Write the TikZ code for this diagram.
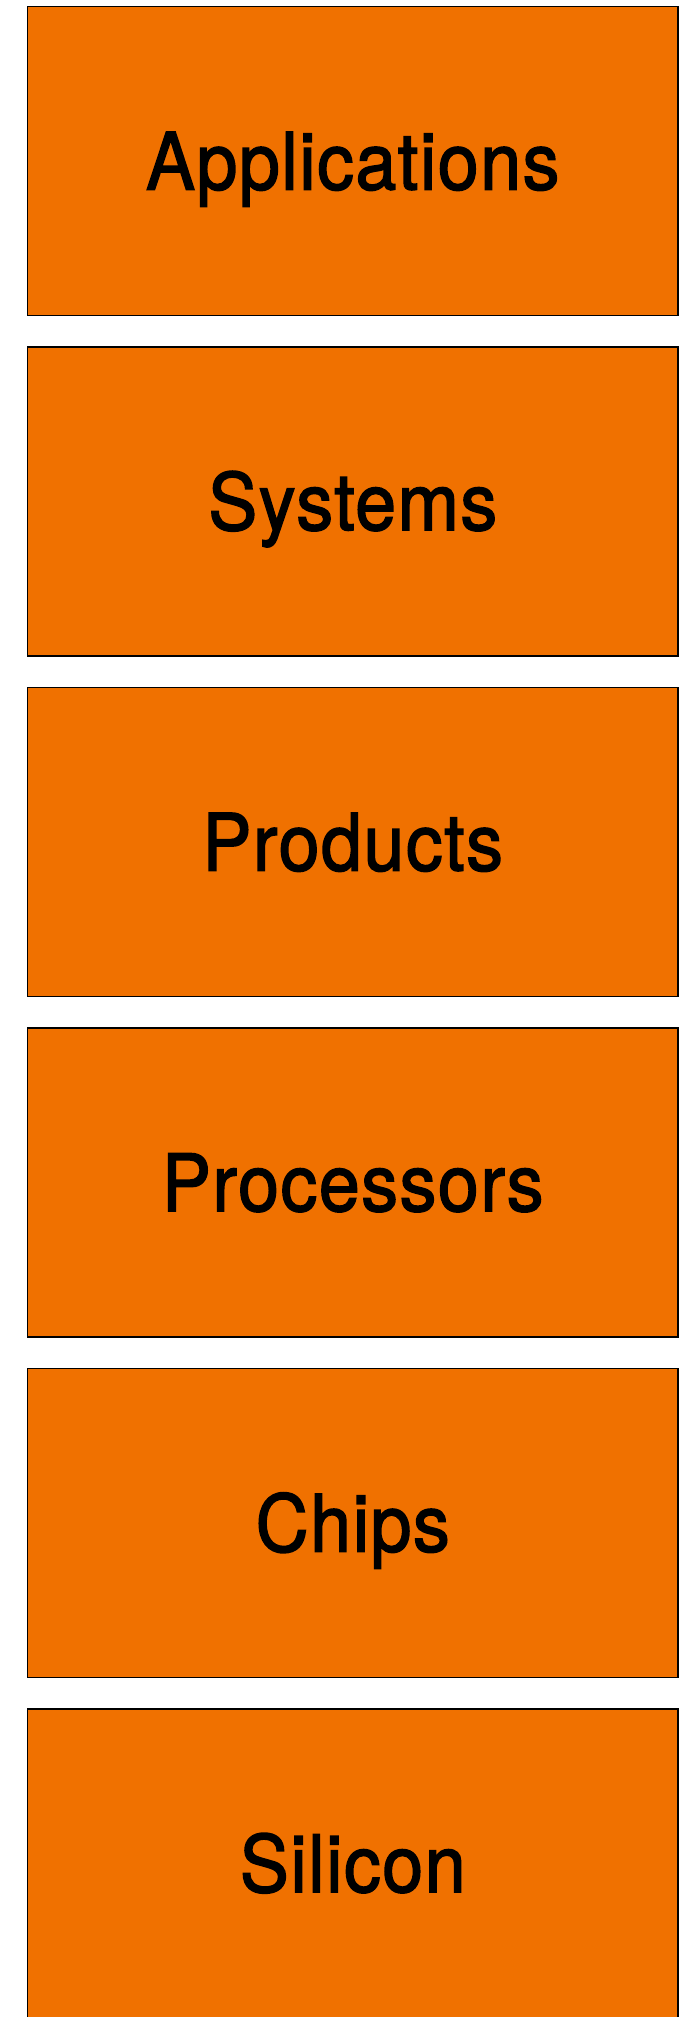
\documentclass[tikz,border=0pt]{standalone}
\usepackage{fontspec}
\setmainfont{TeX Gyre Heros}[FakeBold=1.9,FakeStretch=0.93,LetterSpace=2]
\definecolor{boxorange}{HTML}{F07100}
\begin{document}
\begin{tikzpicture}[x=1pt,y=1pt,
  layerbox/.style={draw=black,fill=boxorange,line width=1.4pt,minimum width=650.5pt,minimum height=309pt,inner sep=0pt,outer sep=0pt},
  layerlabel/.style={anchor=base,inner sep=0pt,font=\fontsize{79}{80}\selectfont}]
\useasboundingbox (0,0) rectangle (693,-2017);
\clip (0,0) rectangle (693,-2017);
\foreach \t/\lbl [count=\i] in {6.5/Applications,347/Systems,687.5/Products,1028/Processors,1368.5/Chips,1709/Silicon}{
  \node[layerbox] (box\i) at (352.75,-\t-154.5) {};
  \node[layerlabel] (lab\i) at ([yshift=-28.5pt]box\i.center) {\lbl};
}
\end{tikzpicture}
\end{document}
